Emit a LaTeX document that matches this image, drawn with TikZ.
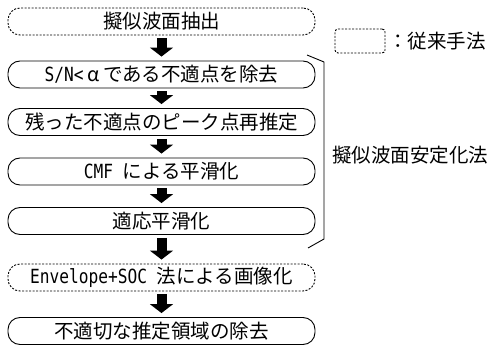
\documentclass[tikz,border=0pt]{standalone}
\usepackage{fontspec}
\setmainfont{Noto Sans CJK JP}
\newfontfamily\hw[FakeStretch=0.83]{DejaVu Sans Mono}
\usetikzlibrary{arrows.meta}
\tikzset{
  stepbox/.style={draw, line width=0.9pt, rounded corners=12pt, minimum width=307pt, minimum height=27pt, inner sep=0pt},
  oldbox/.style={stepbox, dash pattern=on 2pt off 1.5pt},
  flow/.style={line width=10pt, -{Triangle[width=23pt,length=9pt]}, shorten <=3pt, shorten >=4pt},
  brace/.style={line width=0.9pt},
  lbl/.style={inner sep=0pt}
}
\begin{document}
\begin{tikzpicture}[x=1pt,y=-1pt,font=\fontsize{19.5}{22}\selectfont]
\useasboundingbox (0,0) rectangle (489,347);
\node[oldbox]  (s1) at (161.5,21.5) {擬似波面抽出};
\node[stepbox] (s2) at (161.5,74.5) {{\hw S/N<}\makebox[1em]{α}である不適点を除去};
\node[stepbox] (s3) at (161.5,122)  {残った不適点のピーク点再推定};
\node[stepbox] (s4) at (161.5,171.5){{\hw CMF }による平滑化};
\node[stepbox] (s5) at (161.5,221)  {適応平滑化};
\node[oldbox]  (s6) at (161.5,277.5){{\hw Envelope+SOC }法による画像化};
\node[stepbox] (s7) at (161.5,331)  {不適切な推定領域の除去};
\foreach \a/\b in {s1/s2,s2/s3,s3/s4,s4/s5,s5/s6,s6/s7}
  \draw[flow] (\a.south) -- (\b.north);
\node[draw, line width=0.9pt, dash pattern=on 2pt off 1.5pt, rounded corners=3pt, minimum width=50pt, minimum height=24pt, inner sep=0pt] (leg) at (360,41) {};
\node[lbl, anchor=west] (legt) at (388,41) {：従来手法};
\coordinate (b1) at (307,55);
\coordinate (b2) at (324,62);
\coordinate (b3) at (324,239);
\coordinate (b4) at (308,248);
\draw[brace] (b1) -- (b2) -- (b3) -- (b4);
\node[lbl] (lab) at (410,155) {擬似波面安定化法};
\end{tikzpicture}
\end{document}
